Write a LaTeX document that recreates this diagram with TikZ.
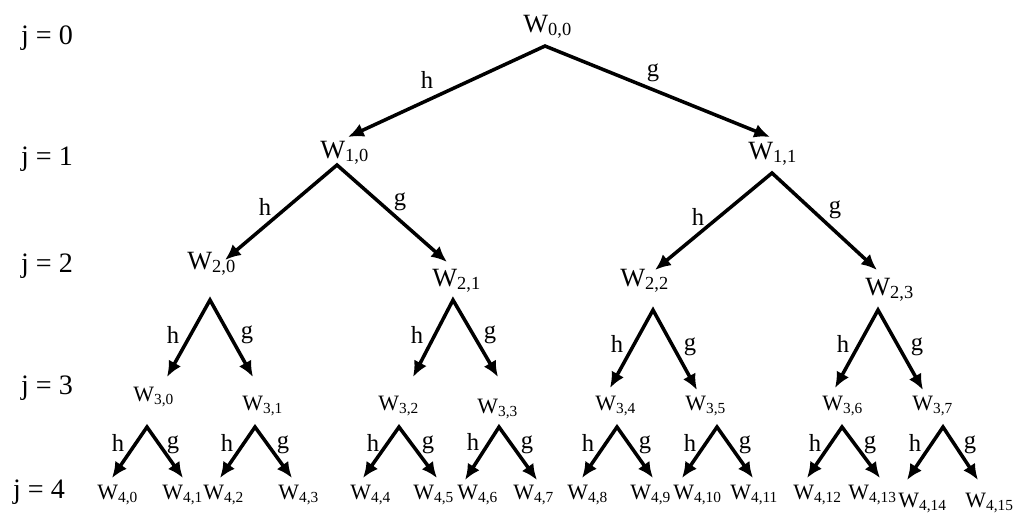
\documentclass[tikz,border=0pt]{standalone}
\usepackage{fontspec}
\setmainfont{Liberation Serif}
\usetikzlibrary{arrows.meta}

\tikzset{
  lvl/.style={font=\fontsize{16}{19}\selectfont, anchor=base, inner sep=0pt},
  wbig/.style={font=\fontsize{15}{18}\selectfont, inner sep=0pt, anchor=base west},
  wsmall/.style={font=\fontsize{12.5}{15}\selectfont, inner sep=0pt, anchor=base west},
  filt/.style={font=\fontsize{14}{16}\selectfont, inner sep=0pt},
  split/.style={line width=2pt, miter limit=10,
    {Latex[length=9pt,width=8pt]}-{Latex[length=9pt,width=8pt]}},
}

\begin{document}
\begin{tikzpicture}[x=0.02cm, y=-0.02cm]
    \useasboundingbox (0,0) rectangle (1013,514);

    % level labels
    \foreach \j/\x/\y in {0/47/44, 1/47/165, 2/47/272, 3/47/394, 4/39/498}
        \node[lvl] (j\j) at (\x,\y) {j = \j};

    % packet nodes
    \foreach \a/\b/\x/\y in {0/0/523/32, 1/0/320/158, 1/1/748/159,
        2/0/187/269, 2/1/432/286, 2/2/620/286, 2/3/865/295}
        \node[wbig] (w\a-\b) at (\x,\y) {W\textsubscript{\a,\b}};
    \foreach \a/\b/\x/\y in {3/0/133/401, 3/1/242/410, 3/2/378/410, 3/3/477/413,
        3/4/595/410, 3/5/685/410, 3/6/822/410, 3/7/912/410,
        4/0/97/499, 4/1/162/499, 4/2/203/499, 4/3/278/499,
        4/4/350/499, 4/5/413/499, 4/6/457/499, 4/7/513/499,
        4/8/567/499, 4/9/630/499, 4/10/673/499, 4/11/730/499,
        4/12/793/499, 4/13/848/499, 4/14/898/507, 4/15/965/507}
        \node[wsmall] (w\a-\b) at (\x,\y) {W\textsubscript{\a,\b}};

    % splits: apex, low-pass end, high-pass end, labels
    \foreach \p/\ax/\ay/\lx/\ly/\rx/\ry/\hx/\hy/\gx/\gy in {
        0-0/545/46/348/137/770/137/427/80/653/73,
        1-0/337/165/225/260/447/262/265/207/400/202,
        1-1/772/173/655/270/877/270/698/217/835/210,
        2-0/210/300/167/377/253/377/173/335/247/335,
        2-1/453/300/413/377/498/377/417/335/490/335,
        2-2/653/310/610/388/697/390/617/344/690/347,
        2-3/878/310/835/388/923/390/843/344/917/347,
        3-0/147/427/112/478/183/478/118/443/173/445,
        3-1/255/427/220/478/292/478/227/443/283/445,
        3-2/399/427/363/478/437/478/373/443/428/445,
        3-3/499/427/465/480/537/480/473/442/527/445,
        3-4/617/427/582/478/653/478/588/443/645/445,
        3-5/717/427/682/478/753/478/690/443/745/445,
        3-6/842/427/807/478/880/478/815/443/870/445,
        3-7/943/427/907/480/978/480/915/443/970/445} {
        \coordinate (a\p) at (\ax,\ay);
        \coordinate (l\p) at (\lx,\ly);
        \coordinate (r\p) at (\rx,\ry);
        \draw[split] (l\p) -- (a\p) -- (r\p);
        \node[filt] (h\p) at (\hx,\hy) {h};
        \node[filt] (g\p) at (\gx,\gy) {g};
    }
\end{tikzpicture}
\end{document}
